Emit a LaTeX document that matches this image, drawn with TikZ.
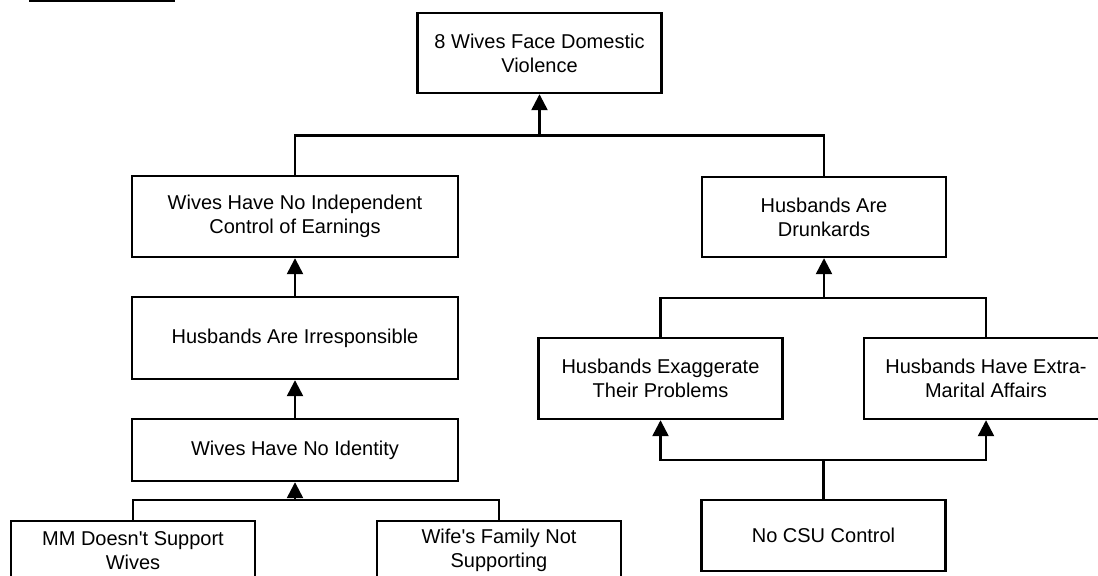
\documentclass[tikz,border=0pt]{standalone}
\usepackage{fontspec}
\setmainfont{Liberation Sans}
\usetikzlibrary{arrows.meta}
\begin{document}
\begin{tikzpicture}[
  x=0.75pt, y=0.75pt,
  box/.style={draw=black, line width=1.8pt, fill=white, align=center, inner sep=2pt,
    minimum width=183pt, minimum height=60pt, font=\fontsize{15}{18}\selectfont},
  widebox/.style={box, minimum width=244.5pt},
  link/.style={line width=1.8pt, draw=black},
  arr/.style={link, -{Triangle[width=12pt,length=12pt]}}
]
  \useasboundingbox (0,0) rectangle (1098,575);

  % Borde recortado arriba a la izquierda
  \draw[link] (29,574) -- (175,574);

  % Nodos
  \node[box] (top) at (539.5,522) {8 Wives Face Domestic\\Violence};
  \node[widebox, minimum height=60.75pt] (whni) at (295,358.5) {Wives Have No Independent\\Control of Earnings};
  \node[box] (had) at (824,358) {Husbands Are\\Drunkards};
  \node[widebox, minimum height=61.5pt] (hai) at (295,237) {Husbands Are Irresponsible};
  \node[widebox, minimum height=46.5pt] (whnid) at (295,125) {Wives Have No Identity};
  \node[box, minimum height=44pt] (mm) at (133,24.5) {MM Doesn\textquotesingle t Support\\Wives};
  \node[box, minimum height=44pt] (wife) at (499,24.5) {Wife\textquotesingle s Family Not\\Supporting};
  \node[box, minimum height=60.75pt] (hep) at (660.5,196.5) {Husbands Exaggerate\\Their Problems};
  \node[box, minimum height=60.75pt] (hhema) at (986,196.5) {Husbands Have Extra-\\Marital Affairs};
  \node[box, minimum height=53.25pt] (csu) at (823.5,39.5) {No CSU Control};

  % Puntos de union
  \coordinate (j1) at (539.5,439.5);
  \coordinate (j2) at (824,277);
  \coordinate (j3) at (295,75);
  \coordinate (j4) at (823.5,115);

  % Conectores
  \draw[link] (whni.north) |- (j1) -| (had.north);
  \draw[arr] (j1) -- (top.south);
  \draw[arr] (hai.north) -- (whni.south);
  \draw[arr] (whnid.north) -- (hai.south);
  \draw[link] (mm.north) |- (j3) -| (wife.north);
  \draw[arr] (j3) -- (whnid.south);
  \draw[link] (hep.north) |- (j2) -| (hhema.north);
  \draw[arr] (j2) -- (had.south);
  \draw[link] (csu.north) -- (j4);
  \draw[arr] (j4) -| (hep.south);
  \draw[arr] (j4) -| (hhema.south);
\end{tikzpicture}
\end{document}
